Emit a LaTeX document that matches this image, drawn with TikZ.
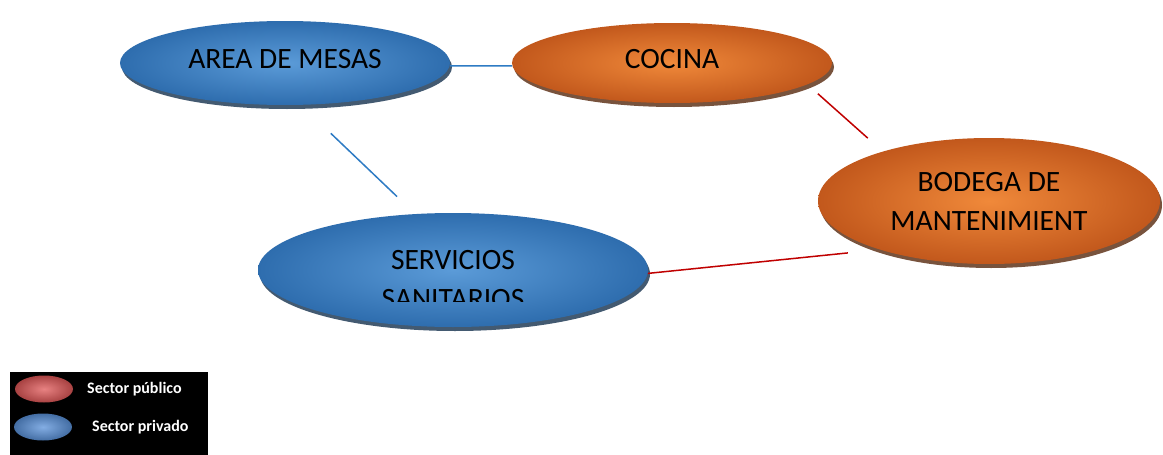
\documentclass[tikz,border=0pt]{standalone}
\usepackage{fontspec}
\setmainfont{Carlito}
\usetikzlibrary{shapes.geometric,shadows}
\definecolor{bluein}{HTML}{5B9BD8}
\definecolor{blueout}{HTML}{2E6DAE}
\definecolor{orin}{HTML}{F0893A}
\definecolor{orout}{HTML}{C2581C}
\definecolor{bline}{HTML}{2E7BC4}
\definecolor{rline}{HTML}{C00000}
\definecolor{legred}{HTML}{E05858}
\definecolor{legblue}{HTML}{5A92DA}
\begin{document}
\begin{tikzpicture}[x=1pt,y=-1pt,
  zone/.style={ellipse, inner sep=0pt, shading=radial, align=center,
    font=\fontsize{29.5}{39}\selectfont},
  pub/.style={zone, inner color=orin, outer color=orout,
    drop shadow={shadow xshift=2pt, shadow yshift=-4pt, fill=orout!45!black, opacity=.8}},
  priv/.style={zone, inner color=bluein, outer color=blueout,
    drop shadow={shadow xshift=2pt, shadow yshift=-4pt, fill=blueout!45!black, opacity=.8}},
  bconn/.style={draw=bline, line width=1.5pt},
  rconn/.style={draw=rline, line width=1.5pt},
  legdot/.style={ellipse, inner sep=0pt, minimum width=58pt, minimum height=27pt, shading=radial},
  legtxt/.style={anchor=west, text=white, font=\fontsize{16}{18}\selectfont\bfseries, inner sep=0pt}]
\useasboundingbox (0,0) rectangle (1163,455);
\fill[white] (0,0) rectangle (1163,455);

% zones
\node[priv, minimum width=330pt, minimum height=84pt] (area) at (285,63) {\raisebox{8pt}{AREA DE MESAS}};
\node[pub, minimum width=320pt, minimum height=80pt] (cocina) at (672,63) {\raisebox{8pt}{COCINA}};
\node[pub, minimum width=342pt, minimum height=126pt] (bodega) at (989,201) {BODEGA DE\\MANTENIMIENT};
\node[priv, minimum width=390pt, minimum height=114pt] (serv) at (453,270) {};
\begin{scope}
  \clip (250,200) rectangle (660,301);
  \node[font=\fontsize{29.5}{39}\selectfont, align=center, inner sep=0pt] (servtxt) at (453,280) {SERVICIOS\\SANITARIOS};
\end{scope}

% connectors
\draw[bconn] (area.-1.75) -- (cocina.181.8);
\draw[bconn, shorten <=41pt, shorten >=25pt] (area.-69.7) -- (serv.124.3);
\draw[rconn, shorten <=14pt, shorten >=20pt] (cocina.-9.7) -- (bodega.155.5);
\draw[rconn, shorten >=32pt] (serv.-1.5) -- (bodega.204);

% legend
\fill[black] (10,372) rectangle (208,455);
\node[legdot, inner color=legred!75!white, outer color=legred!75!black] (legpub) at (44,389) {};
\node[legdot, inner color=legblue!75!white, outer color=legblue!75!black] (legpriv) at (43,427) {};
\node[legtxt] (legpubtxt) at (87,389) {Sector público};
\node[legtxt] (legprivtxt) at (92,427) {Sector privado};
\end{tikzpicture}
\end{document}
